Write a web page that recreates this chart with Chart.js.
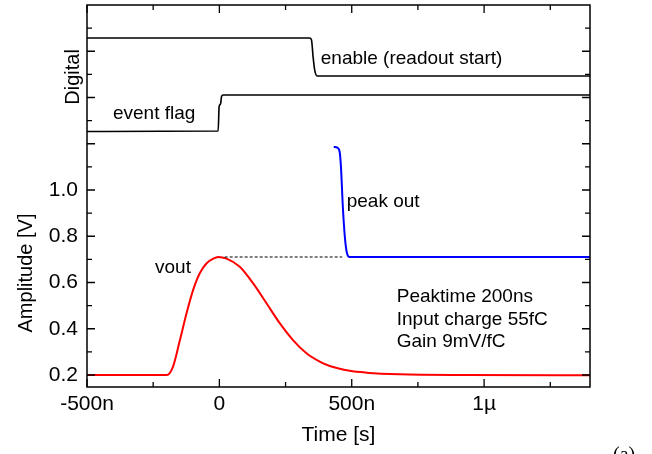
<!DOCTYPE html>
<html>
<head>
<meta charset="utf-8">
<title>Peak detector timing</title>
<script src="https://cdn.jsdelivr.net/npm/chart.js@4.4.0/dist/chart.umd.min.js"></script>
<style>
  html, body { margin: 0; padding: 0; background: #fff; }
  canvas { display: block; }
</style>
</head>
<body>
<canvas id="chart" width="652" height="454"></canvas>
<script>
// Time in ns, values in V (digital traces share the same y axis, upper part)
const voutT = [-500, -198, -175, -149, -124, -99, -74, -48, -23, -4, 27, 77, 127, 178, 228, 278, 329, 379, 417, 492, 555, 681, 933, 1400];
const voutV = [0.2, 0.2, 0.236, 0.351, 0.467, 0.568, 0.640, 0.683, 0.703, 0.710, 0.703, 0.668, 0.597, 0.510, 0.424, 0.351, 0.294, 0.258, 0.239, 0.218, 0.210, 0.203, 0.200, 0.199];

const peakT = [432, 447, 455, 460, 466, 474, 481, 492, 1400];
const peakV = [1.186, 1.182, 1.160, 1.086, 0.935, 0.797, 0.732, 0.710, 0.710];

const enableT = [-500, 341, 348, 354, 360, 369, 1400];
const enableV = [1.657, 1.657, 1.649, 1.576, 1.519, 1.493, 1.493];

const flagT = [-500, -4.5, -1, 4.5, 8, 14, 1400];
const flagV = [1.253, 1.255, 1.360, 1.372, 1.403, 1.411, 1.411];

const dashT = [20, 464];
const dashV = [0.710, 0.710];

const xTickValues = [-500, 0, 500, 1000];
const xTickLabels = ['-500n', '0', '500n', '1µ'];
const yTickValues = [0.2, 0.4, 0.6, 0.8, 1.0];
const yTickLabels = ['0.2', '0.4', '0.6', '0.8', '1.0'];

const FONT = "'Liberation Sans', Arial, sans-serif";

// annotations, placed in data coordinates
const notes = [
  { text: 'enable (readout start)', x: 383, y: 1.545 },
  { text: 'event flag', x: -402, y: 1.306 },
  { text: 'vout', x: -243, y: 0.640 },
  { text: 'peak out', x: 481, y: 0.928 },
  { text: 'Peaktime 200ns', x: 670, y: 0.516 },
  { text: 'Input charge 55fC', x: 670, y: 0.416 },
  { text: 'Gain 9mV/fC', x: 670, y: 0.321 }
];

function pts(ts, vs) {
  return ts.map((t, i) => ({ x: t, y: vs[i] }));
}

function pickLabel(values, labels, v) {
  const i = values.findIndex(d => Math.abs(d - v) < 1e-6);
  return i >= 0 ? labels[i] : '';
}

// tick positions every step between from and to (minor + major)
function steps(from, to, step) {
  const out = [];
  for (let k = 0; from + k * step <= to + 1e-9; k++) out.push({ value: Math.round((from + k * step) * 1000) / 1000 });
  return out;
}

const frameAndText = {
  id: 'frameAndText',
  afterDatasetsDraw(chart) {
    const { ctx, chartArea: a, scales: { x, y } } = chart;
    ctx.save();
    ctx.strokeStyle = '#000';
    ctx.lineWidth = 1.5;
    ctx.strokeRect(a.left, a.top, a.right - a.left, a.bottom - a.top);

    // inward ticks on all four sides
    ctx.lineWidth = 1.3;
    ctx.beginPath();
    x.ticks.forEach(t => {
      const px = x.getPixelForValue(t.value);
      const len = Math.abs(t.value % 500) < 1e-6 ? 8 : 5;
      ctx.moveTo(px, a.bottom); ctx.lineTo(px, a.bottom - len);
      ctx.moveTo(px, a.top); ctx.lineTo(px, a.top + len);
    });
    y.ticks.forEach(t => {
      const py = y.getPixelForValue(t.value);
      const len = Math.round(t.value * 10) % 2 === 0 ? 8 : 5;
      ctx.moveTo(a.left, py); ctx.lineTo(a.left + len, py);
      ctx.moveTo(a.right, py); ctx.lineTo(a.right - len, py);
    });
    ctx.stroke();

    ctx.fillStyle = '#000';
    ctx.font = '19px ' + FONT;
    ctx.textAlign = 'left';
    ctx.textBaseline = 'alphabetic';
    notes.forEach(n => {
      ctx.fillText(n.text, x.getPixelForValue(n.x), y.getPixelForValue(n.y));
    });

    // y axis titles
    ctx.font = '20px ' + FONT;
    ctx.textAlign = 'center';
    ctx.textBaseline = 'middle';
    [['Digital', a.left - 14, 1.489], ['Amplitude [V]', a.left - 61, 0.641]].forEach(([txt, px, v]) => {
      ctx.save();
      ctx.translate(px, y.getPixelForValue(v));
      ctx.rotate(-Math.PI / 2);
      ctx.fillText(txt, 0, 0);
      ctx.restore();
    });

    ctx.font = "20px 'Liberation Serif', 'Times New Roman', serif";
    ctx.textAlign = 'left';
    ctx.textBaseline = 'alphabetic';
    ctx.fillText('(a)', 613, 461);
    ctx.restore();
  }
};

const tickFont = { family: FONT, size: 21 };

new Chart(document.getElementById('chart').getContext('2d'), {
  type: 'line',
  data: {
    datasets: [
      { data: pts(dashT, dashV), borderColor: '#000', borderWidth: 1.1, borderDash: [3, 2] },
      { data: pts(voutT, voutV), borderColor: '#ff0000', borderWidth: 2, cubicInterpolationMode: 'monotone' },
      { data: pts(peakT, peakV), borderColor: '#0000ff', borderWidth: 2, cubicInterpolationMode: 'monotone' },
      { data: pts(enableT, enableV), borderColor: '#000', borderWidth: 1.6, cubicInterpolationMode: 'monotone' },
      { data: pts(flagT, flagV), borderColor: '#000', borderWidth: 1.6, cubicInterpolationMode: 'monotone' }
    ]
  },
  options: {
    responsive: false,
    animation: false,
    layout: { padding: { top: 5, right: 62, left: 0, bottom: 0 } },
    elements: { point: { radius: 0 } },
    plugins: { legend: { display: false }, tooltip: { enabled: false } },
    scales: {
      x: {
        type: 'linear', min: -500, max: 1400,
        grid: { display: false, drawTicks: false },
        border: { display: false },
        afterBuildTicks: s => { s.ticks = steps(-500, 1250, 250); },
        ticks: {
          autoSkip: false, maxRotation: 0, padding: 5,
          color: '#000', font: tickFont,
          callback: v => pickLabel(xTickValues, xTickLabels, v)
        },
        title: { display: true, text: 'Time [s]', color: '#000', font: tickFont, padding: { top: 0, bottom: 6 } },
        afterFit: s => { s.height = 67; s.paddingLeft = 0; s.paddingRight = 0; }
      },
      y: {
        type: 'linear', min: 0.148, max: 1.8,
        grid: { display: false, drawTicks: false },
        border: { display: false },
        afterBuildTicks: s => { s.ticks = steps(0.2, 1.7, 0.1); },
        ticks: {
          autoSkip: false, padding: 9,
          color: '#000', font: tickFont,
          callback: v => pickLabel(yTickValues, yTickLabels, v)
        },
        afterFit: s => { s.width = 87; s.paddingTop = 0; s.paddingBottom = 0; }
      }
    }
  },
  plugins: [frameAndText]
});
</script>
</body>
</html>
